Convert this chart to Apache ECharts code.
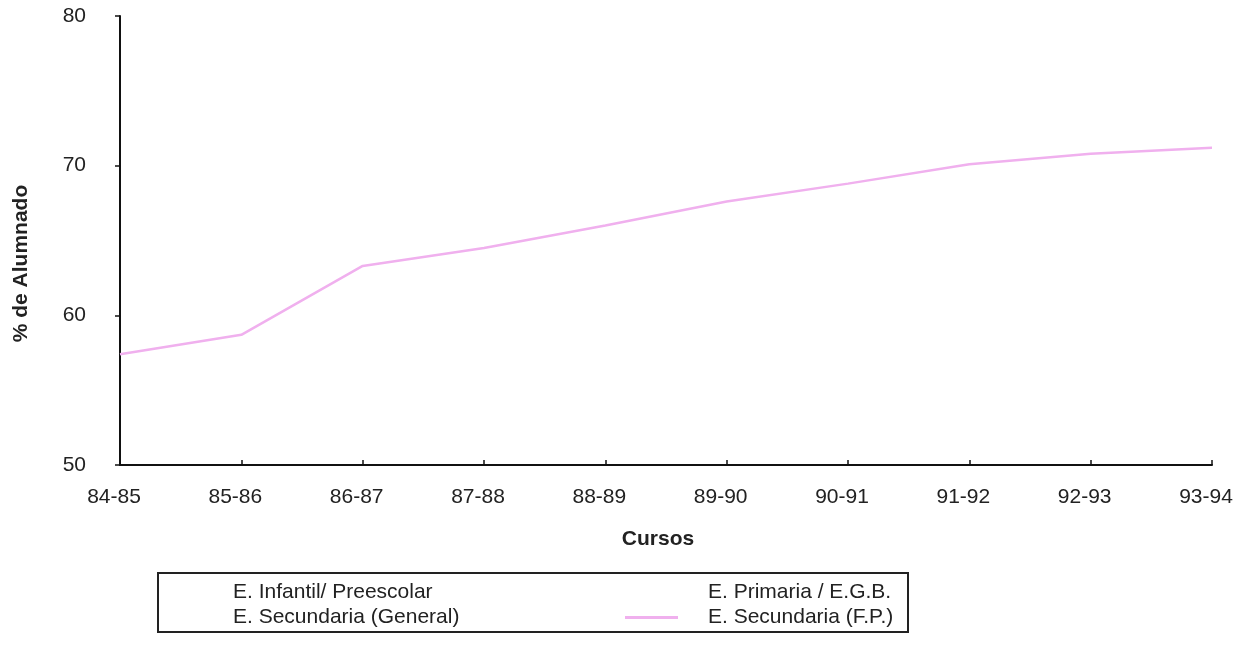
<!DOCTYPE html>
<html>
<head>
<meta charset="utf-8">
<script src="https://cdn.jsdelivr.net/npm/echarts@6/dist/echarts.min.js"></script>
<style>
html,body{margin:0;padding:0;background:#fff;}
#chart{width:1244px;height:657px;}
</style>
</head>
<body>
<div id="chart"></div>
<script>
var categories = ['84-85','85-86','86-87','87-88','88-89','89-90','90-91','91-92','92-93','93-94'];
var seriesNames = ['E. Infantil/ Preescolar','E. Primaria / E.G.B.','E. Secundaria (General)','E. Secundaria (F.P.)'];
var infantil = [];
var primaria = [];
var secGeneral = [];
var secFP = [57.4, 58.7, 63.3, 64.5, 66.0, 67.6, 68.8, 70.1, 70.8, 71.2];
var yTicks = [50, 60, 70, 80];

var FONT = '"Liberation Sans", Arial, sans-serif';
var PINK = '#f0b0ee';
var chart = echarts.init(document.getElementById('chart'), null, {renderer:'canvas'});
var legendText = {fontFamily: FONT, fontSize: 21, color: '#222', lineHeight: 25, padding: [0,0,0,25]};
var lineIcon = 'rect';
chart.setOption({
  animation: false,
  backgroundColor: '#fff',
  grid: {left: 120, right: 32, top: 16, bottom: 192, containLabel: false},
  xAxis: {
    type: 'category', data: categories, boundaryGap: false,
    name: 'Cursos', nameLocation: 'middle', nameGap: 64,
    nameTextStyle: {fontFamily: FONT, fontSize: 21, fontWeight: 'bold', color: '#222', padding: [0, 16, 0, 0]},
    axisLine: {lineStyle: {color: '#111', width: 2}},
    axisTick: {show: true, inside: true, length: 5, lineStyle: {color: '#111', width: 1.5}},
    axisLabel: {fontFamily: FONT, fontSize: 21, color: '#222', margin: 22, padding: [0, 12, 0, 0]},
    splitLine: {show: false}
  },
  yAxis: {
    type: 'value', min: yTicks[0], max: yTicks[yTicks.length-1], interval: 10,
    name: '% de Alumnado', nameLocation: 'middle', nameGap: 88, nameRotate: 90,
    nameTextStyle: {fontFamily: FONT, fontSize: 21, fontWeight: 'bold', color: '#222', padding: [0, 46, 0, 0]},
    axisLine: {show: true, lineStyle: {color: '#111', width: 2}},
    axisTick: {show: true, length: 5, lineStyle: {color: '#111', width: 1.5}},
    axisLabel: {fontFamily: FONT, fontSize: 21, color: '#222', margin: 34},
    splitLine: {show: false}
  },
  legend: [
    {data: [seriesNames[0], seriesNames[2]], orient: 'vertical', left: 165, top: 580, padding: 0,
     itemGap: 0, itemWidth: 38, itemHeight: 3, textStyle: legendText, icon: lineIcon},
    {data: [{name: seriesNames[1], itemStyle: {color: '#ffffff'}}, {name: seriesNames[3], itemStyle: {color: PINK}}],
     orient: 'vertical', left: 625, top: 580, padding: 0,
     itemGap: 0, itemWidth: 53, itemHeight: 3, textStyle: legendText, icon: lineIcon}
  ],
  graphic: [{type: 'rect', z: 100, shape: {x: 158, y: 573, width: 750, height: 59},
    style: {fill: 'none', stroke: '#222', lineWidth: 2}}],
  series: [
    {name: seriesNames[0], type: 'line', data: infantil, symbol: 'none', color: '#ffffff', lineStyle: {color: '#ffffff', width: 2}},
    {name: seriesNames[1], type: 'line', data: primaria, symbol: 'none', color: '#ffffff', lineStyle: {color: '#ffffff', width: 2}},
    {name: seriesNames[2], type: 'line', data: secGeneral, symbol: 'none', color: '#ffffff', lineStyle: {color: '#ffffff', width: 2}},
    {name: seriesNames[3], type: 'line', data: secFP, symbol: 'none', color: PINK, lineStyle: {color: PINK, width: 2.5}}
  ]
});
</script>
</body>
</html>
